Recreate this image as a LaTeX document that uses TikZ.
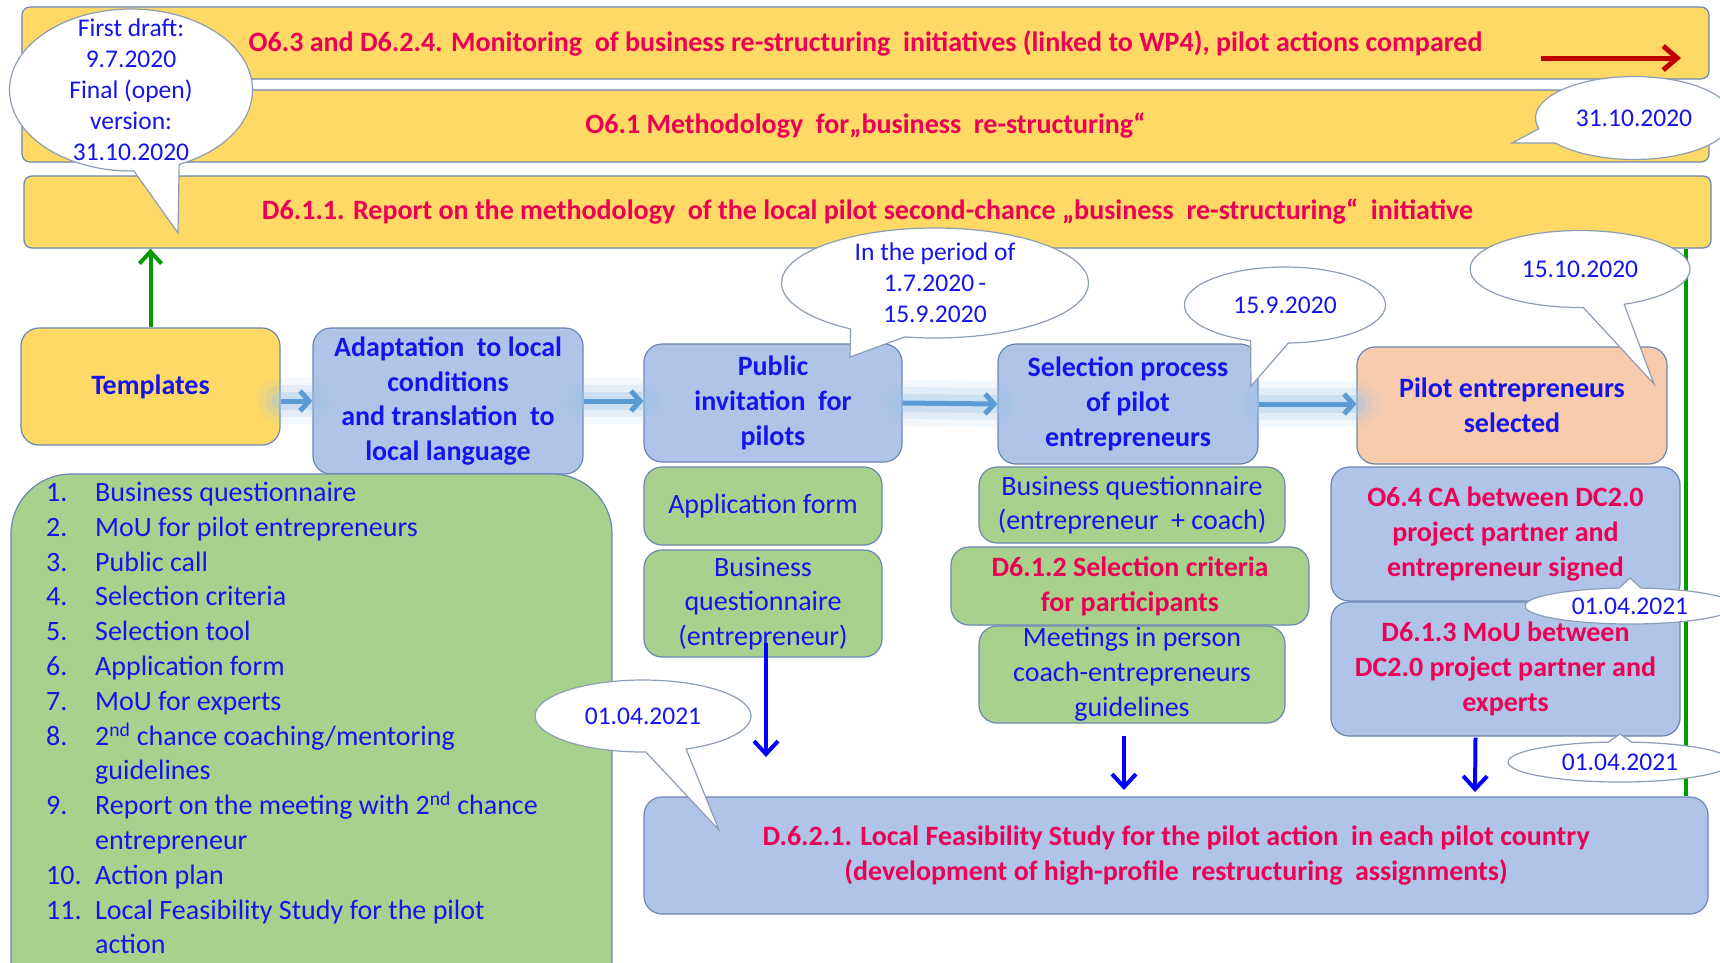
\documentclass[tikz,border=0pt]{standalone}
\usepackage{fontspec}
\setmainfont{Carlito}
\usetikzlibrary{arrows.meta,shapes.callouts}
\definecolor{barfill}{HTML}{FFD966}
\definecolor{stagefill}{HTML}{B0C4E8}
\definecolor{docgreen}{HTML}{A9D18E}
\definecolor{peach}{HTML}{F8CBAD}
\definecolor{edgegray}{HTML}{6A86B3}
\definecolor{notegray}{HTML}{8C9DB5}
\definecolor{inkblue}{RGB}{20,20,235}
\definecolor{headred}{RGB}{235,0,85}
\definecolor{flowblue}{HTML}{5B9BD5}
\definecolor{glowblue}{HTML}{9DC3E6}
\definecolor{pureblue}{RGB}{0,0,255}
\definecolor{linkgreen}{RGB}{0,155,0}
\definecolor{darkred}{RGB}{192,0,0}

\newcommand{\tplitem}[2]{\makebox[49pt][l]{#1}#2}

\begin{document}
\begin{tikzpicture}[x=1pt,y=-1pt,
    bar/.style={draw=edgegray,fill=barfill,rounded corners=8,line width=1.2,
      minimum width=1687,minimum height=72,inner sep=0,text=headred,
      font=\fontsize{28}{34}\selectfont\bfseries},
    stagebox/.style={draw=edgegray,fill=stagefill,rounded corners=18,line width=1.2,
      inner sep=0,align=center,text=inkblue,font=\fontsize{28}{34.8}\selectfont\bfseries},
    docbox/.style={stagebox,fill=docgreen,font=\fontsize{28}{34.8}\selectfont},
    outbox/.style={stagebox,text=headred},
    bubble/.style={ellipse callout,draw=notegray,fill=white,line width=1.2,
      inner sep=0,callout pointer arc=22,align=center,text=inkblue,
      font=\fontsize{25.5}{31}\selectfont},
    flow/.style={draw=flowblue,line width=5,-{Straight Barb[length=9,width=20]},
      preaction={draw=glowblue,line width=46,line cap=round,opacity=.12,-},
      preaction={draw=glowblue,line width=32,line cap=round,opacity=.2,-},
      preaction={draw=glowblue,line width=18,line cap=round,opacity=.35,-}},
    handoff/.style={draw=pureblue,line width=4,-{Straight Barb[length=13,width=24]}},
    feed/.style={draw=linkgreen,line width=4,-{Straight Barb[length=12,width=22]}},
    ongoing/.style={draw=darkred,line width=5,-{Straight Barb[length=14,width=24]}}]
\useasboundingbox (0,0) rectangle (1720,962);

% work package bars
\node[bar] (monitor) at (865.5,43) {O6.3 and D6.2.4. Monitoring\ \ of business re-structuring\ \ initiatives (linked to WP4), pilot actions compared};
\node[bar] (method) at (865.5,126) {O6.1 Methodology\ \ for„business\ \ re-structuring“};
\node[bar] (report) at (867.5,212) {D6.1.1. Report on the methodology\ \ of the local pilot second-chance „business\ \ re-structuring“\ \ initiative};
\coordinate (ongoingtail) at (1541,58);
\coordinate (ongoinghead) at (1681,58);
\draw[ongoing] (ongoingtail) -- (ongoinghead);

% stages
\node[stagebox,fill=barfill,minimum width=259,minimum height=117] (templ) at (150.5,386.5) {Templates};
\node[stagebox,minimum width=270,minimum height=146] (adapt) at (448,401) {Adaptation\ \ to local\\conditions\\and translation\ \ to\\local language};
\node[stagebox,minimum width=258,minimum height=118] (invit) at (773,403) {Public\\invitation\ \ for\\pilots};
\node[stagebox,minimum width=260,minimum height=120] (selproc) at (1128,404) {Selection process\\of pilot\\entrepreneurs};
\node[stagebox,fill=peach,minimum width=310,minimum height=117] (chosen) at (1512,405.5) {Pilot entrepreneurs\\selected};

\draw[flow] (templ.east |- adapt.west) -- (adapt.west);
\draw[flow] (adapt.east) -- (adapt.east -| invit.west);
\draw[flow] (invit.east) -- (selproc.west);
\draw[flow] (selproc.east) -- (selproc.east -| chosen.west);

% documents under the stages
\node[docbox,minimum width=238,minimum height=78] (appform) at (763,506) {Application form};
\node[docbox,minimum width=238,minimum height=107] (bqentr) at (763,603.5) {Business\\questionnaire\\(entrepreneur)};
\node[docbox,minimum width=306,minimum height=76] (bqcoach) at (1132,505) {Business questionnaire\\(entrepreneur\ \ + coach)};
\node[docbox,minimum width=306,minimum height=97] (meetings) at (1132,674.5) {Meetings in person\\coach-entrepreneurs\\guidelines};
\node[docbox,text=headred,font=\fontsize{28}{34.8}\selectfont\bfseries,minimum width=358,minimum height=78] (criteria) at (1130,586) {D6.1.2 Selection criteria\\for participants};
\node[outbox,minimum width=349,minimum height=134] (caentr) at (1505.5,534) {O6.4 CA between DC2.0\\project partner and\\entrepreneur signed};
\node[outbox,minimum width=349,minimum height=134] (moue) at (1505.5,669) {D6.1.3 MoU between\\DC2.0 project partner and\\experts};
\node[outbox,minimum width=1064,minimum height=117] (study) at (1176,855.5) {D.6.2.1. Local Feasibility Study for the pilot action\ \ in each pilot country\\(development of high-profile\ \ restructuring\ \ assignments)};

% template list
\node[docbox,rounded corners=60,minimum width=601,minimum height=560] (tplbox) at (311.5,754) {};
\node[anchor=north west,inner sep=0,align=left,text=inkblue,font=\fontsize{28}{34.8}\selectfont] (tpllist) at (46,482) {%
\tplitem{1.}{Business questionnaire}\\
\tplitem{2.}{MoU for pilot entrepreneurs}\\
\tplitem{3.}{Public call}\\
\tplitem{4.}{Selection criteria}\\
\tplitem{5.}{Selection tool}\\
\tplitem{6.}{Application form}\\
\tplitem{7.}{MoU for experts}\\
\tplitem{8.}{2\textsuperscript{nd} chance coaching/mentoring}\\
\tplitem{}{guidelines}\\
\tplitem{9.}{Report on the meeting with 2\textsuperscript{nd} chance}\\
\tplitem{}{entrepreneur}\\
\tplitem{10.}{Action plan}\\
\tplitem{11.}{Local Feasibility Study for the pilot}\\
\tplitem{}{action}};

% links
\draw[feed] (templ.north) -- (templ.north |- report.south);
\draw[feed,-] (report.south -| 1686,0) -- (study.north -| 1686,0);
\coordinate (bqtip) at (766,757);
\coordinate (meettip) at (1124,790);
\coordinate (mouetip) at (1475,792);
\draw[handoff] ([xshift=3,yshift=15]bqentr.south) -- (bqtip);
\draw[handoff] ([xshift=-8,yshift=-12]meetings.south) -- (meettip);
\draw[handoff] ([xshift=-30,yshift=-1]moue.south) -- (mouetip);

% dates
\node[bubble,minimum width=243,minimum height=162,inner ysep=-20,callout absolute pointer={(178,233)}] (draftnote) at (131,90) {First draft:\\9.7.2020\\Final (open)\\version:\\31.10.2020};
\node[bubble,minimum width=197,minimum height=83,callout absolute pointer={(1512,143)}] (methodnote) at (1634,118) {31.10.2020};
\node[bubble,minimum width=307,minimum height=110,inner ysep=-8,callout absolute pointer={(850,357)}] (periodnote) at (935,283) {In the period of\\1.7.2020\,-\\15.9.2020};
\node[bubble,minimum width=201,minimum height=76,callout absolute pointer={(1251,386)}] (selnote) at (1285,305) {15.9.2020};
\node[bubble,minimum width=220,minimum height=77,callout absolute pointer={(1654,384)}] (chosennote) at (1580,269) {15.10.2020};
\node[bubble,callout pointer arc=12,minimum width=210,minimum height=36,callout absolute pointer={(1630,578)}] (canote) at (1630,606) {01.04.2021};
\node[bubble,callout pointer arc=12,minimum width=224,minimum height=40,callout absolute pointer={(1620,734)}] (mounote) at (1620,762) {01.04.2021};
\node[bubble,minimum width=216,minimum height=72,callout absolute pointer={(719,830)}] (studynote) at (643,716) {01.04.2021};
\end{tikzpicture}
\end{document}
